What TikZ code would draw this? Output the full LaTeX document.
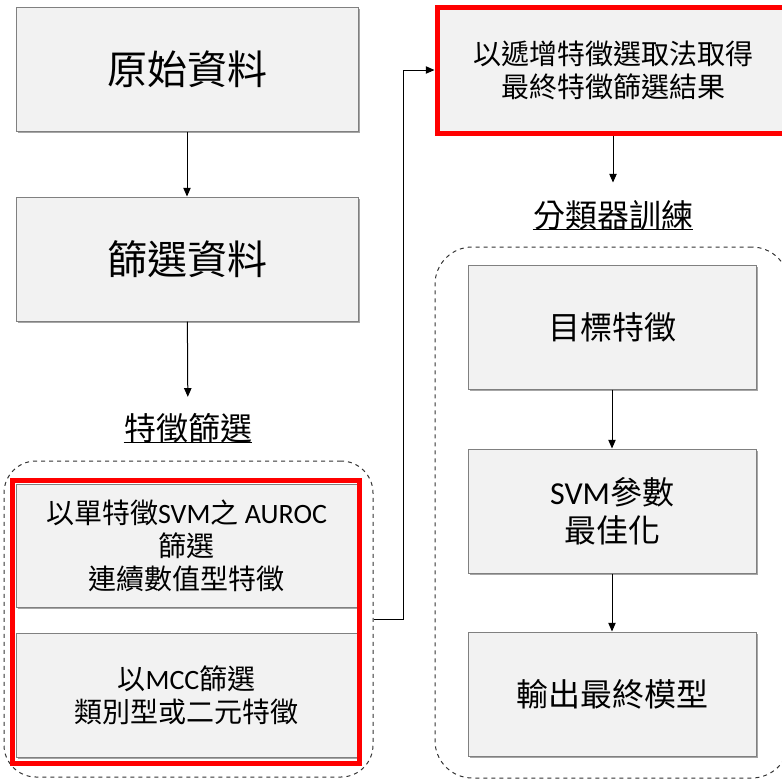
\documentclass[tikz,border=0pt]{standalone}
\usepackage{fontspec}
\setmainfont{Noto Sans CJK TC}
\newfontfamily\lat{Carlito}
\usetikzlibrary{arrows.meta,shadows}
\newcommand{\fbig}{\fontsize{30pt}{36pt}\selectfont}
\newcommand{\fmid}{\fontsize{24pt}{28.5pt}\selectfont}
\newcommand{\fsml}{\fontsize{21pt}{24.75pt}\selectfont}
\begin{document}
\begin{tikzpicture}[x=0.75pt,y=-0.75pt,
  box/.style={draw=black!50, fill=black!5, line width=0.75pt,
    drop shadow={shadow xshift=1.8pt, shadow yshift=-1.8pt, fill=black!35, opacity=1},
    align=center, inner sep=0pt},
  redbox/.style={draw=red, line width=3.75pt},
  grp/.style={draw=black!80, dashed, line width=0.75pt, rounded corners=24pt, inner sep=0pt},
  lbl/.style={inner sep=0pt, font=\fmid},
  arr/.style={draw=black, line width=0.75pt, -{Triangle[length=6.5pt,width=5.5pt]}},
  uline/.style={draw=black, line width=1.1pt}
]
\useasboundingbox (0,0) rectangle (782,779);
\clip (0,0) rectangle (782,779);

% left column
\node[box, minimum width=256.5pt, minimum height=93pt, font=\fbig] (raw) at (187,69) {原始資料};
\node[box, minimum width=256.5pt, minimum height=93pt, font=\fbig] (filt) at (187,259) {篩選資料};
\node[lbl] (fs) at (188,428) {特徵篩選};
\draw[uline] ([yshift=-11pt]fs.west) -- ([yshift=-11pt]fs.east);

\node[grp, minimum width=276.75pt, minimum height=237pt] (gl) at (188.5,619) {};
\node[box, minimum width=255.75pt, minimum height=92.25pt, font=\fsml] (auroc) at (186.5,545.5)
  {以單特徵{\lat SVM}之 {\lat AUROC}\\篩選\\連續數值型特徵};
\node[box, minimum width=255.75pt, minimum height=93pt, font=\fsml] (mcc) at (186.5,695)
  {以{\lat MCC}篩選\\類別型或二元特徵};
\node[redbox, minimum width=260.25pt, minimum height=212.25pt, inner sep=0pt] (redl) at (185.5,621.5) {};

% right column
\node[box, draw=red, line width=3.75pt, minimum width=264pt, minimum height=94.5pt, font=\fsml] (inc) at (613,70)
  {以遞增特徵選取法取得\\最終特徵篩選結果};
\node[lbl] (cls) at (613,215) {分類器訓練};
\draw[uline] ([yshift=-11pt]cls.west) -- ([yshift=-11pt]cls.east);

\node[grp, rounded corners=28pt, minimum width=265.5pt, minimum height=398.25pt] (gr) at (612,512.5) {};
\node[box, minimum width=216pt, minimum height=93pt, font=\fmid] (tgt) at (612,327) {目標特徵};
\node[box, minimum width=216pt, minimum height=93pt, font=\fmid] (svm) at (612,511) {{\lat SVM}參數\\最佳化};
\node[box, minimum width=216pt, minimum height=93pt, font=\fmid] (out) at (612,694) {輸出最終模型};

% connectors
\draw[arr] (raw) -- (filt);
\draw[arr, shorten >=12pt] (filt) -- (fs);
\draw[arr] (gl.east) -- ++(30,0) |- (inc.west);
\draw[arr, shorten >=13pt] (inc) -- (cls);
\draw[arr] (tgt) -- (svm);
\draw[arr] (svm) -- (out);
\end{tikzpicture}
\end{document}
